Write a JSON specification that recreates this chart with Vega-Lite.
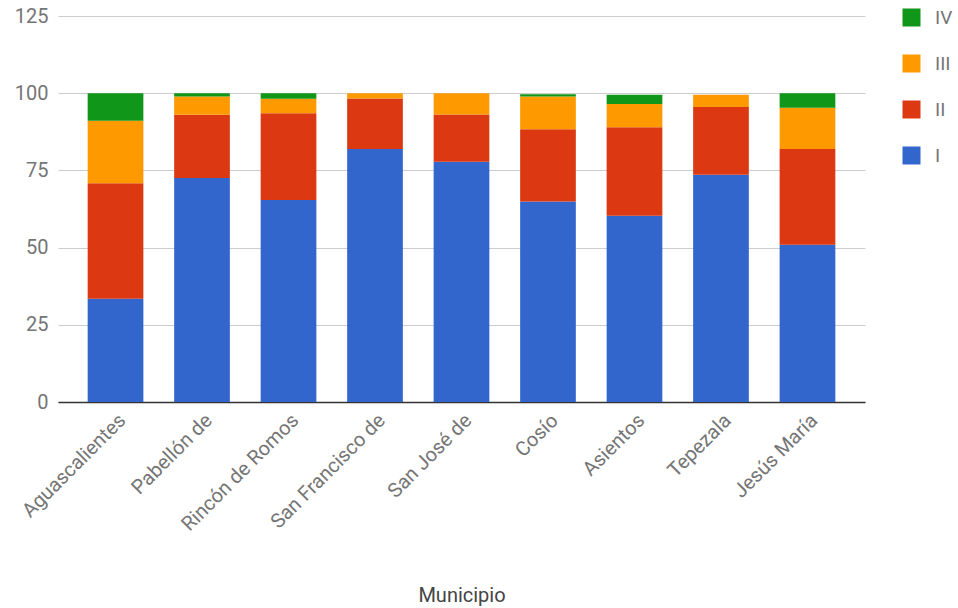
{
  "$schema": "https://vega.github.io/schema/vega-lite/v6.json",
  "width": 807,
  "height": 386,
  "autosize": {"type": "none"},
  "padding": {"left": 58, "top": 16, "right": 93, "bottom": 206},
  "background": "white",
  "config": {
    "view": {"stroke": null},
    "font": "Roboto"
  },
  "data": {
    "values": [
      {"municipio": "Aguascalientes", "nivel": "I", "valor": 33.4},
      {"municipio": "Aguascalientes", "nivel": "II", "valor": 37.4},
      {"municipio": "Aguascalientes", "nivel": "III", "valor": 20.3},
      {"municipio": "Aguascalientes", "nivel": "IV", "valor": 8.9},
      {"municipio": "Pabellón de", "nivel": "I", "valor": 72.5},
      {"municipio": "Pabellón de", "nivel": "II", "valor": 20.5},
      {"municipio": "Pabellón de", "nivel": "III", "valor": 5.9},
      {"municipio": "Pabellón de", "nivel": "IV", "valor": 1.1},
      {"municipio": "Rincón de Romos", "nivel": "I", "valor": 65.4},
      {"municipio": "Rincón de Romos", "nivel": "II", "valor": 28.1},
      {"municipio": "Rincón de Romos", "nivel": "III", "valor": 4.7},
      {"municipio": "Rincón de Romos", "nivel": "IV", "valor": 1.8},
      {"municipio": "San Francisco de", "nivel": "I", "valor": 81.9},
      {"municipio": "San Francisco de", "nivel": "II", "valor": 16.4},
      {"municipio": "San Francisco de", "nivel": "III", "valor": 1.7},
      {"municipio": "San Francisco de", "nivel": "IV", "valor": 0},
      {"municipio": "San José de", "nivel": "I", "valor": 77.8},
      {"municipio": "San José de", "nivel": "II", "valor": 15.3},
      {"municipio": "San José de", "nivel": "III", "valor": 6.9},
      {"municipio": "San José de", "nivel": "IV", "valor": 0},
      {"municipio": "Cosío", "nivel": "I", "valor": 64.9},
      {"municipio": "Cosío", "nivel": "II", "valor": 23.4},
      {"municipio": "Cosío", "nivel": "III", "valor": 10.6},
      {"municipio": "Cosío", "nivel": "IV", "valor": 0.8},
      {"municipio": "Asientos", "nivel": "I", "valor": 60.3},
      {"municipio": "Asientos", "nivel": "II", "valor": 28.7},
      {"municipio": "Asientos", "nivel": "III", "valor": 7.5},
      {"municipio": "Asientos", "nivel": "IV", "valor": 3.0},
      {"municipio": "Tepezala", "nivel": "I", "valor": 73.6},
      {"municipio": "Tepezala", "nivel": "II", "valor": 21.9},
      {"municipio": "Tepezala", "nivel": "III", "valor": 4.0},
      {"municipio": "Tepezala", "nivel": "IV", "valor": 0},
      {"municipio": "Jesús María", "nivel": "I", "valor": 50.9},
      {"municipio": "Jesús María", "nivel": "II", "valor": 31.0},
      {"municipio": "Jesús María", "nivel": "III", "valor": 13.4},
      {"municipio": "Jesús María", "nivel": "IV", "valor": 4.7}
    ]
  },
  "mark": {"type": "bar"},
  "encoding": {
    "x": {
      "field": "municipio",
      "type": "nominal",
      "sort": ["Aguascalientes", "Pabellón de", "Rincón de Romos", "San Francisco de", "San José de", "Cosío", "Asientos", "Tepezala", "Jesús María"],
      "scale": {"paddingInner": 0.356, "paddingOuter": 0.343},
      "axis": {
        "title": "Municipio",
        "titleFont": "Roboto",
        "titleFontSize": 20,
        "titleFontWeight": "normal",
        "titleColor": "#444444",
        "titleBaseline": "alphabetic",
        "titleY": 199,
        "labelAngle": -45,
        "labelFont": "Roboto",
        "labelFontSize": 20,
        "labelColor": "#757575",
        "labelPadding": 8,
        "ticks": false,
        "domain": true,
        "domainColor": "#333333",
        "domainWidth": 1.5,
        "grid": false
      }
    },
    "y": {
      "field": "valor",
      "type": "quantitative",
      "stack": "zero",
      "scale": {"domain": [0, 125], "nice": false},
      "axis": {
        "title": null,
        "values": [0, 25, 50, 75, 100, 125],
        "labelFont": "Roboto",
        "labelFontSize": 20,
        "labelColor": "#757575",
        "labelPadding": 10,
        "ticks": false,
        "domain": false,
        "grid": true,
        "gridColor": "#cccccc",
        "gridWidth": 1
      }
    },
    "color": {
      "field": "nivel",
      "type": "nominal",
      "scale": {"domain": ["I", "II", "III", "IV"], "range": ["#3366cc", "#dc3912", "#ff9900", "#109618"]},
      "legend": {
        "title": null,
        "orient": "none",
        "legendX": 844,
        "legendY": -8,
        "direction": "vertical",
        "values": ["IV", "III", "II", "I"],
        "symbolType": "square",
        "symbolSize": 324,
        "symbolStrokeWidth": 0,
        "symbolOpacity": 1,
        "labelFont": "Roboto",
        "labelFontSize": 19,
        "labelColor": "#757575",
        "labelOffset": 14,
        "rowPadding": 26
      }
    },
    "order": {"field": "nivel", "sort": "ascending"}
  }
}
